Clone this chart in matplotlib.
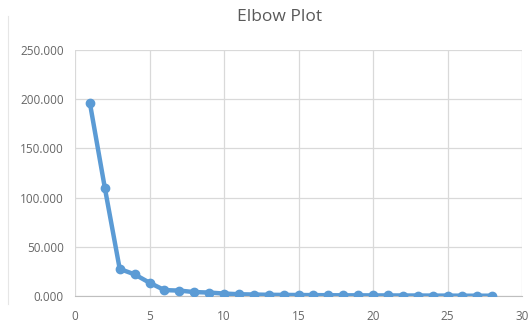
import matplotlib
matplotlib.use("Agg")
import matplotlib.pyplot as plt
from matplotlib.lines import Line2D
from matplotlib.ticker import FormatStrFormatter

# Elbow curve values
k_values = list(range(1, 29))
wcss = [196.0, 110.0, 27.5, 22.0, 13.5, 6.0, 5.5, 4.0, 3.5, 2.5,
        1.8, 1.5, 1.2, 1.1, 1.0, 0.9, 0.8, 0.7, 0.7, 0.6,
        0.6, 0.5, 0.5, 0.4, 0.4, 0.3, 0.3, 0.3]

x_ticks = [0, 5, 10, 15, 20, 25, 30]
y_ticks = [0, 50, 100, 150, 200, 250]

plt.rcParams["font.family"] = ["Open Sans", "DejaVu Sans"]

fig = plt.figure(figsize=(5.29, 3.27), dpi=100, facecolor="white")
ax = fig.add_axes([0.1418, 0.0948, 0.845, 0.752])

color_line = "#5B9BD5"
ax.plot(k_values, wcss, color=color_line, linewidth=3.2, marker="o",
        markersize=6, solid_capstyle="round", zorder=3)

ax.set_xlim(0, 30)
ax.set_ylim(0, 250)
ax.set_xticks(x_ticks)
ax.set_yticks(y_ticks)
ax.yaxis.set_major_formatter(FormatStrFormatter("%.3f"))

ax.grid(True, color="#d9d9d9", linewidth=0.9)
ax.set_axisbelow(True)
for side in ["top", "right", "left"]:
    ax.spines[side].set_visible(False)
ax.spines["bottom"].set_color("#bfbfbf")
ax.tick_params(length=0, labelsize=8.5, colors="#666666")
ax.tick_params(axis="x", pad=10)
ax.tick_params(axis="y", pad=8)

# faint chart-area border on the left, as in the source screenshot
fig.add_artist(Line2D([0.016, 0.016], [0.07, 0.95], color="#e6e6e6",
                      linewidth=0.8, transform=fig.transFigure))

fig.text(0.528, 0.948, "Elbow Plot", ha="center", va="center",
         fontsize=12.5, color="#595959")

fig.savefig("out.png", dpi=100, facecolor="white")
